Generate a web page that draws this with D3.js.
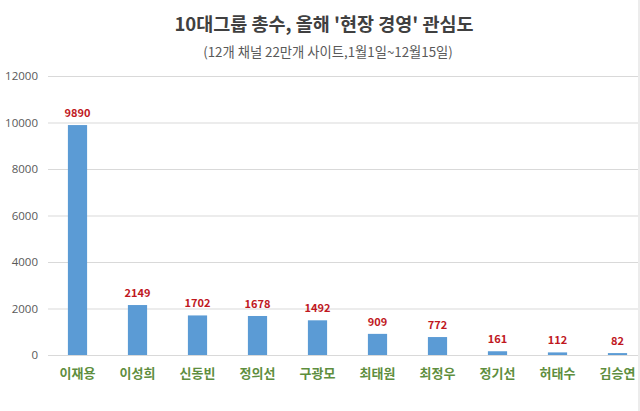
<!DOCTYPE html>
<html><head><meta charset="utf-8">
<script src="https://cdn.jsdelivr.net/npm/d3@7"></script>
<style>body{margin:0;background:#fff;}svg{display:block;font-family:"Noto Sans CJK KR","Noto Sans",sans-serif;}</style>
</head><body>
<svg id="c" width="640" height="411"></svg>
<script>
const titleText = "10대그룹 총수, 올해 '현장 경영' 관심도";
const subtitleText = "(12개 채널 22만개 사이트,1월1일~12월15일)";
const names = ["이재용","이성희","신동빈","정의선","구광모","최태원","최정우","정기선","허태수","김승연"];
const values = [9890,2149,1702,1678,1492,909,772,161,112,82];
const yTicks = [0,2000,4000,6000,8000,10000,12000];

const svg = d3.select("#c");
const x = d3.scaleBand().domain(names).range([47.5, 647.5]).paddingInner(0.68).paddingOuter(0.34);
const y = d3.scaleLinear().domain([0,12000]).range([355,76]);

// border on right
svg.append("line").attr("x1",639).attr("x2",639).attr("y1",0).attr("y2",411).attr("stroke","#d9d9d9");

// gridlines
svg.append("g").selectAll("line").data(yTicks).join("line")
  .attr("x1",48).attr("x2",638)
  .attr("y1",d=>y(d)+0.5).attr("y2",d=>y(d)+0.5)
  .attr("stroke","#d9d9d9").attr("stroke-width",1);

// y axis labels
const yAxis = d3.axisLeft(y).tickValues(yTicks).tickSize(0).tickPadding(0).tickFormat(d3.format("d"));
const gy = svg.append("g").attr("transform","translate(38,0)").call(yAxis);
gy.select(".domain").remove();
gy.selectAll("text").attr("fill","#595959").style("font-size","11.5px").style("font-family","'Open Sans','Noto Sans',sans-serif");

// bars
svg.append("g").selectAll("rect").data(values).join("rect")
  .attr("x",(d,i)=>x(names[i]))
  .attr("width",x.bandwidth())
  .attr("y",d=>y(d))
  .attr("height",d=>y(0)-y(d))
  .attr("fill","#5b9bd5");

// value labels
svg.append("g").selectAll("text").data(values).join("text")
  .attr("x",(d,i)=>x(names[i])+x.bandwidth()/2)
  .attr("y",d=>y(d)-8)
  .attr("text-anchor","middle")
  .attr("fill","#c0181e")
  .style("font-size","11px").style("font-weight","bold")
  .text(d=>d);

// x axis labels
const xAxis = d3.axisBottom(x).tickSize(0).tickPadding(0);
const gx = svg.append("g").attr("transform","translate(0,369)").call(xAxis);
gx.select(".domain").remove();
gx.selectAll("text").attr("fill","#5e8e3e").attr("dy","0.71em").style("font-size","13px").style("font-weight","bold")
  .style("font-family","'Noto Sans CJK KR',sans-serif");

// title
svg.append("text").attr("x",324).attr("y",31).attr("text-anchor","middle")
  .attr("fill","#404040").style("font-size","18.5px").style("font-weight","bold").text(titleText);
svg.append("text").attr("x",328).attr("y",57).attr("text-anchor","middle")
  .attr("fill","#595959").style("font-size","13.3px").text(subtitleText);
</script>
</body></html>
